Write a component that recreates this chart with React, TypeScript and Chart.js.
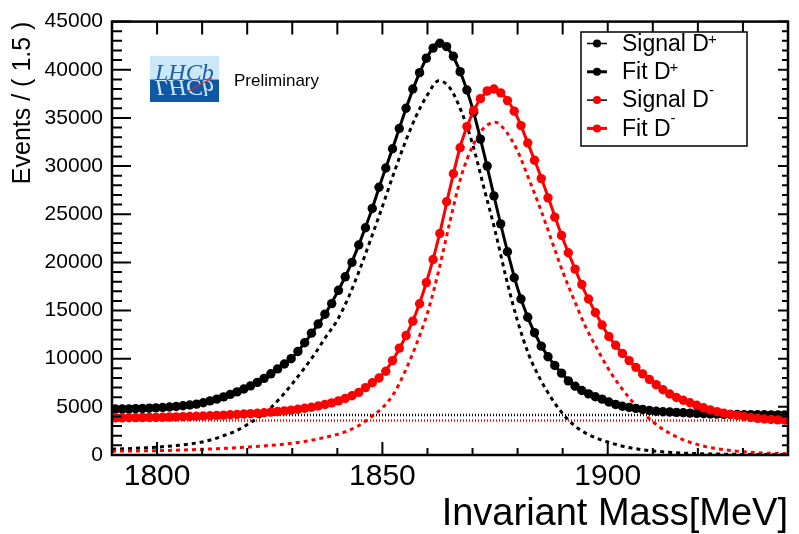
import React, { useEffect, useRef } from "react";
import { Chart, registerables } from "chart.js";

Chart.register(...registerables);

const FONT = "'Liberation Sans', Arial, Helvetica, sans-serif";

// Binned data: bin centres start at 1790.75 with width 1.5 MeV
const BIN_START = 1790.75;
const BIN_WIDTH = 1.5;

const signalDplus = [
  4770, 4780, 4790, 4810, 4830, 4860, 4890, 4930, 4980, 5040,
  5110, 5190, 5285, 5430, 5620, 5800, 6030, 6290, 6550, 6850,
  7180, 7540, 7960, 8430, 8940, 9450, 10000, 10750, 11650, 12650,
  13600, 14620, 15720, 17100, 18500, 20000, 21800, 23600, 25600, 27800,
  29800, 31800, 33900, 36000, 38000, 39700, 41200, 42250, 42750, 42400,
  41400, 39800, 37900, 35600, 32800, 30000, 26900, 24000, 21100, 18400,
  16200, 14300, 12700, 11300, 10200, 9300, 8500, 7700, 7150, 6700,
  6350, 6050, 5800, 5500, 5250, 5060, 4940, 4840, 4740, 4620,
  4540, 4490, 4460, 4430, 4390, 4350, 4320, 4290, 4260, 4240,
  4220, 4210, 4200, 4190, 4185, 4180, 4175, 4170, 4170, 4165,
];

const signalDminus = [
  3850, 3860, 3870, 3880, 3890, 3900, 3910, 3925, 3940, 3960,
  3980, 4000, 4025, 4050, 4080, 4110, 4140, 4175, 4210, 4250,
  4290, 4340, 4390, 4450, 4510, 4580, 4660, 4750, 4850, 4960,
  5090, 5240, 5410, 5620, 5870, 6150, 6500, 7000, 7500, 8000,
  8700, 9800, 11100, 12400, 13900, 15700, 17900, 20300, 23000, 26300,
  29200, 31900, 34100, 35800, 37000, 37800, 38000, 37600, 36800, 35700,
  34200, 32400, 30600, 28700, 26700, 24700, 22800, 21000, 19300, 17700,
  16200, 14800, 13500, 12300, 11400, 10550, 9800, 9100, 8420, 7840,
  7300, 6780, 6330, 5970, 5680, 5430, 5160, 4900, 4680, 4500,
  4350, 4220, 4110, 4000, 3900, 3810, 3740, 3690, 3650, 3620,
];

// Fit curves sampled every 2.5 MeV from 1790
const FIT_START = 1790;
const FIT_STEP = 2.5;

const fitDplus = [
  4765, 4780, 4805, 4845, 4895, 4970, 5070, 5200, 5400, 5700,
  6070, 6510, 7010, 7600, 8350, 9200, 10100, 11500, 13100, 14800,
  16900, 19250, 22100, 25270, 28800, 32150, 35650, 38850, 41380, 42800,
  41900, 39500, 35980, 31400, 26400, 21600, 17300, 14000, 11550, 9750,
  8370, 7250, 6550, 6000, 5550, 5180, 4930, 4760, 4590, 4490,
  4430, 4370, 4320, 4270, 4230, 4200, 4190, 4180, 4175, 4170,
  4165,
];

const fitDminus = [
  3845, 3860, 3875, 3890, 3905, 3930, 3960, 3995, 4040, 4090,
  4140, 4200, 4270, 4350, 4440, 4540, 4670, 4830, 5050, 5300,
  5590, 6000, 6570, 7420, 8350, 10000, 12150, 14800, 18300, 22600,
  27700, 32400, 35500, 37400, 38000, 37000, 35000, 32100, 29100, 25800,
  22500, 19600, 16850, 14600, 12500, 10950, 9700, 8550, 7550, 6700,
  6030, 5550, 5110, 4720, 4420, 4210, 4030, 3860, 3750, 3670,
  3610,
];

// Signal components (dashed)
const sigCompDplus = [
  600, 640, 690, 750, 820, 910, 1020, 1160, 1350, 1650,
  2050, 2500, 3150, 3900, 4800, 6000, 7400, 8900, 10500, 12300,
  14000, 16400, 19300, 22500, 25800, 29200, 32400, 35200, 37400, 38850,
  38100, 35700, 32300, 27800, 23300, 18300, 13900, 10400, 7900, 5900,
  4300, 3100, 2300, 1750, 1350, 1000, 750, 560, 420, 320,
  240, 180, 140, 110, 90, 70, 60, 50, 40, 35,
  30,
];

const sigCompDminus = [
  400, 410, 425, 440, 455, 480, 510, 545, 590, 640,
  690, 750, 820, 900, 990, 1090, 1220, 1380, 1600, 1850,
  2140, 2550, 3120, 3950, 4900, 6350, 8650, 11450, 14750, 19150,
  24250, 28950, 32050, 33950, 34550, 33550, 31550, 28650, 25650, 22350,
  19050, 16150, 13400, 11150, 9050, 7300, 5800, 4500, 3450, 2600,
  1950, 1450, 1080, 800, 600, 450, 340, 260, 200, 160,
  130,
];

// Flat backgrounds (dotted)
const bkgRange = [1790, 1940];
const bkgDplus = [4150, 4150];
const bkgDminus = [3580, 3580];

const X_MIN = 1790;
const X_MAX = 1940;
const Y_MIN = 0;
const Y_MAX = 45000;
const xTickValues = [1800, 1850, 1900];
const yTickValues = [0, 5000, 10000, 15000, 20000, 25000, 30000, 35000, 40000, 45000];

const legendLabels = [
  { text: "Signal D", sup: "+" },
  { text: "Fit D", sup: "+" },
  { text: "Signal D", sup: "-" },
  { text: "Fit D", sup: "-" },
];

const binned = (vals: number[]) => vals.map((v, i) => ({ x: BIN_START + i * BIN_WIDTH, y: v }));
const sampled = (vals: number[]) => vals.map((v, i) => ({ x: FIT_START + i * FIT_STEP, y: v }));
const flat = (vals: number[]) => vals.map((v, i) => ({ x: bkgRange[i], y: v }));

const legendStyles = [
  { line: "#000", lw: 1.5, dot: "#000" },
  { line: "#000", lw: 3, dot: "#000" },
  { line: "#000", lw: 1.5, dot: "#ff0000" },
  { line: "#ff0000", lw: 3, dot: "#ff0000" },
];

const decorPlugin = {
  id: "decor",
  beforeDraw(chart: any) {
    const { ctx, width, height } = chart;
    ctx.save();
    ctx.fillStyle = "#fff";
    ctx.fillRect(0, 0, width, height);
    ctx.restore();
  },
  afterDatasetsDraw(chart: any) {
    const { ctx, chartArea, scales } = chart;
    const { left, right, top, bottom } = chartArea;
    const xs = scales.x;
    const ys = scales.y;
    ctx.save();
    ctx.strokeStyle = "#000";
    ctx.lineWidth = 2;
    ctx.beginPath();
    for (let v = Math.ceil(X_MIN / 10) * 10; v <= X_MAX; v += 10) {
      const px = xs.getPixelForValue(v);
      const major = v % 50 === 0;
      ctx.moveTo(px, bottom);
      ctx.lineTo(px, bottom - (major ? 13 : 7));
      ctx.moveTo(px, top);
      ctx.lineTo(px, top + 13);
    }
    for (let v = Y_MIN; v <= Y_MAX; v += 1000) {
      const py = ys.getPixelForValue(v);
      const major = v % 5000 === 0;
      ctx.moveTo(left, py);
      ctx.lineTo(left + (major ? 19 : 10), py);
      ctx.moveTo(right, py);
      ctx.lineTo(right - (major ? 10 : 6), py);
    }
    ctx.stroke();
    ctx.lineWidth = 2.5;
    ctx.strokeRect(left, top, right - left, bottom - top);
    ctx.restore();
  },
  afterDraw(chart: any) {
    const { ctx } = chart;
    ctx.save();
    // Legend box
    const bx = 581, by = 32, bw = 166, bh = 114;
    ctx.fillStyle = "#fff";
    ctx.fillRect(bx, by, bw, bh);
    ctx.strokeStyle = "#000";
    ctx.lineWidth = 1.5;
    ctx.strokeRect(bx, by, bw, bh);
    legendLabels.forEach((item, i) => {
      const st = legendStyles[i];
      const ry = 43.5 + i * 28.3;
      ctx.strokeStyle = st.line;
      ctx.lineWidth = st.lw;
      ctx.beginPath();
      ctx.moveTo(587, ry);
      ctx.lineTo(607, ry);
      ctx.stroke();
      ctx.fillStyle = st.dot;
      ctx.beginPath();
      ctx.arc(597, ry, 4, 0, Math.PI * 2);
      ctx.fill();
      ctx.fillStyle = "#000";
      ctx.font = `23px ${FONT}`;
      ctx.textBaseline = "middle";
      ctx.textAlign = "left";
      ctx.fillText(item.text, 622, ry + 1);
      const w = ctx.measureText(item.text).width;
      ctx.textBaseline = "alphabetic";
      ctx.font = `15px ${FONT}`;
      if (item.sup === "+") ctx.fillText("+", 622 + w - 1, ry + 0.5);
      else ctx.fillText("-", 622 + w, ry - 5);
    });

    // LHCb logo
    const lx = 150, ly = 56, lw = 69, lh = 46, mid = 79.5;
    ctx.fillStyle = "#cbe8f8";
    ctx.fillRect(lx, ly, lw, mid - ly);
    ctx.fillStyle = "#0f58a6";
    ctx.fillRect(lx, mid, lw, ly + lh - mid);
    ctx.save();
    ctx.beginPath();
    ctx.rect(lx, ly, lw, lh);
    ctx.clip();
    ctx.font = "italic 24px 'Liberation Serif', 'Times New Roman', serif";
    ctx.textBaseline = "alphabetic";
    ctx.fillStyle = "#1f5ea8";
    ctx.fillText("LHCb", 155, mid);
    ctx.translate(0, mid * 2);
    ctx.scale(1, -1);
    ctx.fillStyle = "#cfe8f7";
    ctx.fillText("LHCb", 155, mid);
    ctx.restore();
    ctx.strokeStyle = "#e02b2b";
    ctx.lineWidth = 1.2;
    ctx.beginPath();
    ctx.moveTo(187, 92);
    ctx.lineTo(212, 78);
    ctx.stroke();

    ctx.fillStyle = "#000";
    ctx.font = `17px ${FONT}`;
    ctx.textBaseline = "alphabetic";
    ctx.textAlign = "left";
    ctx.fillText("Preliminary", 234, 86);
    ctx.restore();
  },
};

export default function App() {
  const ref = useRef<HTMLCanvasElement | null>(null);

  useEffect(() => {
    document.body.style.margin = "0";
    const canvas = ref.current;
    if (!canvas) return;

    const chart = new Chart(canvas, {
      type: "line",
      data: {
        datasets: [
          {
            label: "Fit D-",
            data: sampled(fitDminus),
            borderColor: "#ff0000",
            borderWidth: 3,
            pointRadius: 0,
            cubicInterpolationMode: "monotone",
            fill: false,
            order: 0,
          },
          {
            label: "Signal D-",
            data: binned(signalDminus),
            showLine: false,
            pointRadius: 4.7,
            pointBackgroundColor: "#ff0000",
            pointBorderWidth: 0,
            borderColor: "#ff0000",
            order: 1,
          },
          {
            label: "Fit D+",
            data: sampled(fitDplus),
            borderColor: "#000",
            borderWidth: 3,
            pointRadius: 0,
            cubicInterpolationMode: "monotone",
            fill: false,
            order: 2,
          },
          {
            label: "Signal D+",
            data: binned(signalDplus),
            showLine: false,
            pointRadius: 4.7,
            pointBackgroundColor: "#000",
            pointBorderWidth: 0,
            borderColor: "#000",
            order: 3,
          },
          {
            label: "Signal component D-",
            data: sampled(sigCompDminus),
            borderColor: "#ff0000",
            borderWidth: 3,
            borderDash: [4, 4],
            pointRadius: 0,
            cubicInterpolationMode: "monotone",
            fill: false,
            order: 4,
          },
          {
            label: "Signal component D+",
            data: sampled(sigCompDplus),
            borderColor: "#000",
            borderWidth: 3,
            borderDash: [4, 4],
            pointRadius: 0,
            cubicInterpolationMode: "monotone",
            fill: false,
            order: 5,
          },
          {
            label: "Background D-",
            data: flat(bkgDminus),
            borderColor: "#ff0000",
            borderWidth: 2.5,
            borderDash: [1, 2],
            pointRadius: 0,
            fill: false,
            order: 6,
          },
          {
            label: "Background D+",
            data: flat(bkgDplus),
            borderColor: "#000",
            borderWidth: 2.5,
            borderDash: [1, 2],
            pointRadius: 0,
            fill: false,
            order: 7,
          },
        ],
      },
      options: {
        responsive: false,
        animation: false,
        devicePixelRatio: 1,
        layout: { padding: { top: 15, right: 11, left: 0, bottom: 0 } },
        plugins: {
          legend: { display: false },
          tooltip: { enabled: false },
        },
        scales: {
          x: {
            type: "linear",
            min: X_MIN,
            max: X_MAX,
            afterBuildTicks: (s: any) => {
              s.ticks = xTickValues.map((v) => ({ value: v }));
            },
            afterFit: (s: any) => {
              s.height = 79;
            },
            grid: { display: false, drawTicks: false },
            border: { display: false },
            ticks: {
              font: { family: FONT, size: 30 },
              color: "#000",
              padding: 4,
              maxRotation: 0,
              autoSkip: false,
              callback: (v: any) => String(v),
            },
            title: {
              display: true,
              text: "Invariant Mass[MeV]",
              align: "end",
              color: "#000",
              font: { family: FONT, size: 38, lineHeight: 1 },
              padding: { top: 0, bottom: 0 },
            },
          },
          y: {
            type: "linear",
            min: Y_MIN,
            max: Y_MAX,
            afterBuildTicks: (s: any) => {
              s.ticks = yTickValues.map((v) => ({ value: v }));
            },
            afterFit: (s: any) => {
              s.width = 112;
            },
            grid: { display: false, drawTicks: false },
            border: { display: false },
            ticks: {
              font: { family: FONT, size: 21 },
              color: "#000",
              padding: 9,
              callback: (v: any) => String(v),
            },
            title: {
              display: true,
              text: "Events / ( 1.5 )",
              align: "end",
              color: "#000",
              font: { family: FONT, size: 25, lineHeight: 1 },
              padding: { top: 11, bottom: 0 },
            },
          },
        },
      },
      plugins: [decorPlugin],
    } as any);

    return () => chart.destroy();
  }, []);

  return (
    <div style={{ width: 799, height: 534 }}>
      <canvas ref={ref} width={799} height={534} style={{ display: "block" }} />
    </div>
  );
}
